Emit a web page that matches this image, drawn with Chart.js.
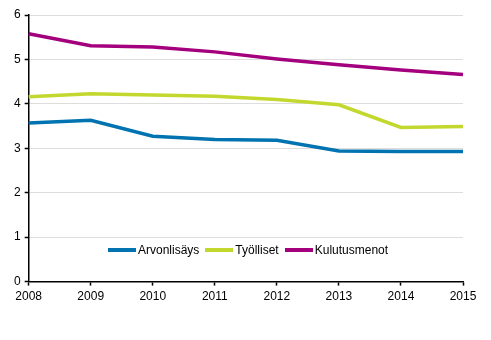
<!DOCTYPE html>
<html>
<head>
<meta charset="utf-8">
<script src="https://cdn.jsdelivr.net/npm/chart.js@4/dist/chart.umd.min.js"></script>
<style>
    html, body { margin: 0; padding: 0; background: #fff; }
    #wrap { position: relative; width: 491px; height: 340px; }
    #legend {
        position: absolute; left: 108px; top: 243px;
        display: flex; align-items: center;
        font: 12px "Liberation Sans", Arial, sans-serif; color: #000;
    }
    #legend .item { display: flex; align-items: center; margin-right: 6px; }
    #legend .swatch { width: 28px; height: 4px; margin-right: 2px; }
</style>
</head>
<body>
<div id="wrap">
    <canvas id="trendChart" width="491" height="340"></canvas>
    <div id="legend"></div>
</div>
<script>
//Years on the x axis
const years = ["2008", "2009", "2010", "2011", "2012", "2013", "2014", "2015"];

//Series values
const arvonlisays = [3.57, 3.63, 3.27, 3.20, 3.18, 2.94, 2.93, 2.93];
const tyolliset = [4.16, 4.23, 4.20, 4.17, 4.10, 3.98, 3.47, 3.49];
const kulutusmenot = [5.58, 5.31, 5.28, 5.17, 5.01, 4.88, 4.76, 4.66];

//Series names and colors
const seriesNames = ["Arvonlisäys", "Työlliset", "Kulutusmenot"];
const seriesColors = ["#0073b0", "#c3d82e", "#a4007e"];

const seriesData = [arvonlisays, tyolliset, kulutusmenot];

const datasets = seriesNames.map((name, i) => ({
    label: name,
    data: seriesData[i],
    borderColor: seriesColors[i],
    backgroundColor: seriesColors[i],
    borderWidth: 3.5,
    pointRadius: 0,
    tension: 0,
    fill: false
}));

Chart.defaults.font.family = "'Liberation Sans', Arial, sans-serif";
Chart.defaults.font.size = 12;
Chart.defaults.color = "#000";

const ctx = document.getElementById("trendChart").getContext("2d");
const trendChart = new Chart(ctx, {
    type: "line",
    data: { labels: years, datasets: datasets },
    options: {
        responsive: false,
        animation: false,
        layout: { padding: { left: 10, top: 15, right: 28, bottom: 32 } },
        plugins: {
            legend: { display: false },
            tooltip: { enabled: false }
        },
        scales: {
            x: {
                offset: false,
                grid: {
                    drawOnChartArea: false,
                    drawTicks: true,
                    tickLength: 4,
                    tickColor: "#000",
                    tickWidth: 1.5
                },
                border: { color: "#000", width: 1.5 },
                ticks: { maxRotation: 0, padding: 4 }
            },
            y: {
                min: 0,
                max: 6,
                ticks: { stepSize: 1, padding: 4 },
                grid: {
                    color: "#bbbbbb",
                    lineWidth: 1,
                    drawTicks: true,
                    tickLength: 4,
                    tickColor: "#000",
                    tickWidth: 1.5
                },
                border: { color: "#000", width: 1.5, dash: [1, 1] }
            }
        }
    }
});

//Build the legend from the chart datasets
const legendEl = document.getElementById("legend");
trendChart.data.datasets.forEach(ds => {
    const item = document.createElement("div");
    item.className = "item";
    const swatch = document.createElement("span");
    swatch.className = "swatch";
    swatch.style.background = ds.borderColor;
    const text = document.createElement("span");
    text.textContent = ds.label;
    item.appendChild(swatch);
    item.appendChild(text);
    legendEl.appendChild(item);
});
</script>
</body>
</html>
